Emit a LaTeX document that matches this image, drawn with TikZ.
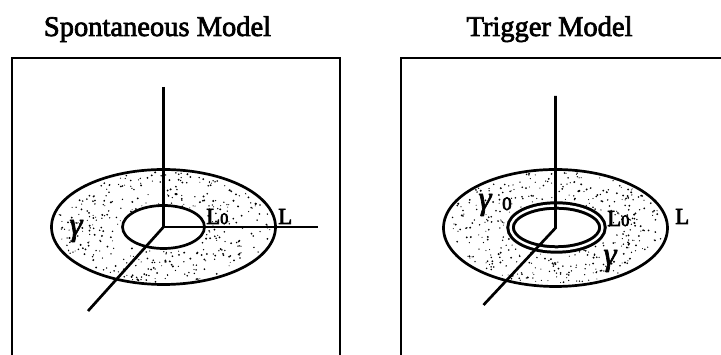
\documentclass[tikz,border=0pt]{standalone}
\usepackage{fontspec}
\setmainfont{Liberation Serif}
\usetikzlibrary{positioning}

\newcommand{\heavy}[1]{\special{pdf:literal direct 2 Tr 0.7 w}#1\special{pdf:literal direct 0 Tr}}
\tikzset{
  frame/.style={line width=1.8pt},
  axis/.style={line width=2.7pt},
  rim/.style={line width=2.7pt},
  ttl/.style={anchor=base, inner sep=0pt, font=\fontsize{28.5}{34}\selectfont},
  lbl/.style={anchor=base west, inner sep=0pt, font=\fontsize{23}{27}\selectfont},
  gam/.style={inner sep=0pt, font=\fontsize{33}{38}\selectfont\itshape},
}
\newcommand{\stipple}[5]{%
  \foreach \k in {1,...,380} {
    \pgfmathsetmacro\ang{360*rnd}
    \pgfmathsetmacro\rr{0.96*sqrt(#5+(1-#5)*rnd)}
    \pgfmathsetmacro\dd{0.5+0.6*rnd}
    \fill ({#1+#3*\rr*cos(\ang)}, {#2+#4*\rr*sin(\ang)}) circle (\dd);
  }}

\begin{document}
\begin{tikzpicture}[x=1pt, y=1pt]
  \useasboundingbox (0,0) rectangle (721,355);
  \pgfmathsetseed{4711}

  \node[ttl] (spont) at (157.5,319) {\heavy{Spontaneous Model}};
  \draw[frame] (12,0) -- (12,297) -- (340,297) -- (340,0);
  \coordinate (o1) at (163.5,128);
  \coordinate (up1) at (163.5,268);
  \coordinate (rt1) at (318,128);
  \coordinate (dn1) at (88,44);
  \stipple{163.5}{128}{112}{57.5}{0.17}
  \draw[rim] (o1) ellipse [x radius=112, y radius=57.5];
  \draw[rim] (o1) ellipse [x radius=41, y radius=21.5];
  \draw[axis] (up1) -- (o1) -- (rt1);
  \draw[axis] (o1) -- (dn1);
  \node[gam] (gam1) at (76,124) {\heavy{γ}};
  \node[lbl] (lo1) at (206,131) {\heavy{L{\fontsize{16}{18}\selectfont 0}}};
  \node[lbl] (ll1) at (278,131) {\heavy{L}};

  \node[ttl] (trig) at (549.5,319) {\heavy{Trigger Model}};
  \draw[frame] (401,0) -- (401,297) -- (721,297);
  \coordinate (o2) at (555.5,127);
  \coordinate (up2) at (555.5,259);
  \coordinate (dn2) at (483.5,50);
  \stipple{555.5}{127.5}{112}{58.5}{0.23}
  \draw[rim] (o2) ellipse [x radius=112, y radius=58.5];
  \draw[line width=3pt, double=white, double distance=2.4pt] (556.5,127.5) ellipse [x radius=46, y radius=22];
  \draw[axis] (up2) -- (o2) -- (dn2);
  \node[gam] (gam0) at (485,150) {\heavy{γ}};
  \node[lbl, font=\fontsize{19}{22}\selectfont] (zero) at (502,145) {\heavy{0}};
  \node[lbl] (lo2) at (607,129) {\heavy{L{\fontsize{16}{18}\selectfont 0}}};
  \node[lbl] (ll2) at (675,131) {\heavy{L}};
  \node[gam] (gam2) at (610,94) {\heavy{γ}};
\end{tikzpicture}
\end{document}
